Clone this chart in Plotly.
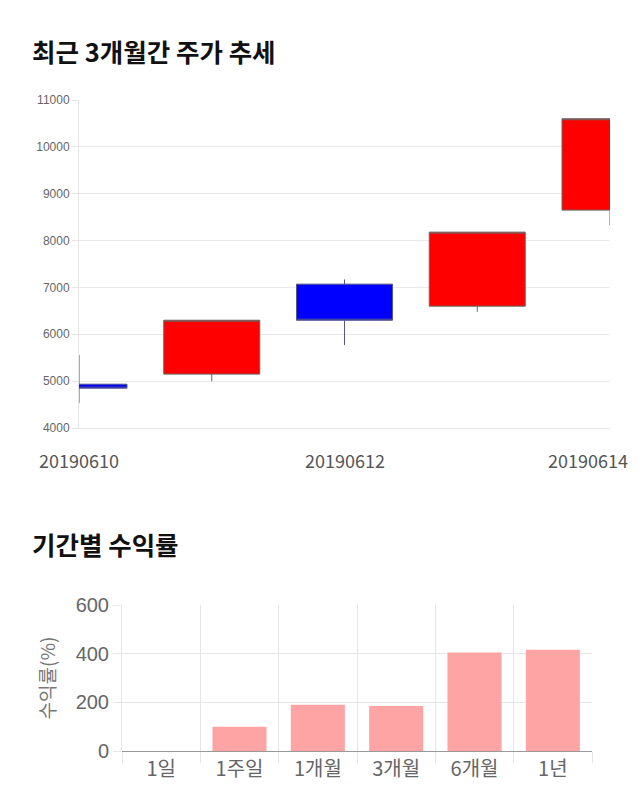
import plotly.graph_objects as go

# ---- data: candlestick (최근 3개월간 주가 추세) ----
dates = ["20190610", "20190611", "20190612", "20190613", "20190614"]
opens = [4935, 5150, 7070, 6600, 8650]
highs = [5560, 6300, 7170, 8180, 10600]
lows = [4530, 5000, 5770, 6480, 8330]
closes = [4850, 6300, 6300, 8180, 10600]
date_ticks = ["20190610", "20190612", "20190614"]
price_ticks = [4000, 5000, 6000, 7000, 8000, 9000, 10000, 11000]

# ---- data: returns (기간별 수익률) ----
periods = ["1일", "1주일", "1개월", "3개월", "6개월", "1년"]
returns = [0, 100, 190, 185, 405, 416]
return_ticks = [0, 200, 400, 600]

W, H = 640, 810
KFONT = "Noto Sans CJK KR"

xpos = list(range(len(dates)))
tickpos = [dates.index(d) for d in date_ticks]

fig = go.Figure()
fig.add_trace(go.Candlestick(
    x=xpos, open=opens, high=highs, low=lows, close=closes,
    xaxis="x", yaxis="y",
    increasing=dict(fillcolor="#FF0000", line=dict(color="#666666", width=1)),
    decreasing=dict(fillcolor="#0000FF", line=dict(color="#55558A", width=1)),
    whiskerwidth=0, showlegend=False, hoverinfo="skip",
))
fig.add_trace(go.Bar(
    x=periods, y=returns, xaxis="x2", yaxis="y2",
    marker=dict(color="#FFA4A4", line=dict(width=0)),
    showlegend=False,
))

def px(x):
    return x / W

def py(y):
    return 1 - y / H

# date labels of the candlestick axis (last one kept inside the canvas)
date_annots = []
for i, (p, d) in enumerate(zip(tickpos, date_ticks)):
    last = i == len(date_ticks) - 1
    date_annots.append(dict(
        text=d, x=p, y=0, xref="x", yref="paper", yanchor="middle",
        xanchor="right" if last else "center", xshift=20 if last else 0,
        yshift=H * py(460), showarrow=False,
        font=dict(family=KFONT, size=18, color="#555555"),
    ))

fig.update_layout(
    width=W, height=H,
    margin=dict(l=0, r=0, t=0, b=0),
    paper_bgcolor="white", plot_bgcolor="white",
    boxgap=0.277, boxgroupgap=0, bargap=0.31,
    font=dict(family=KFONT, color="#666666"),
    xaxis=dict(
        domain=[px(79), px(610)], anchor="y", range=[0, len(dates) - 1],
        tickvals=tickpos, showticklabels=False,
        showgrid=False, zeroline=False, showline=True, linecolor="#E6E6E6",
        ticks="", rangeslider=dict(visible=False), automargin=False,
    ),
    yaxis=dict(
        domain=[py(428), py(100)], anchor="x", range=[4000, 11000],
        tickvals=price_ticks, ticktext=[str(v) for v in price_ticks],
        showgrid=True, gridcolor="#E9E9E9", zeroline=False,
        showline=True, linecolor="#E6E6E6",
        ticks="outside", ticklen=6, tickcolor="#E6E6E6",
        tickfont=dict(family="Liberation Sans", size=12, color="#666666"),
        automargin=False,
    ),
    xaxis2=dict(
        domain=[px(122), px(592)], anchor="y2",
        showgrid=True, gridcolor="#E6E6E6", tickson="boundaries",
        ticks="outside", ticklen=11, tickcolor="#E6E6E6",
        showline=False, zeroline=False, ticklabelstandoff=4,
        tickfont=dict(family=KFONT, size=20, color="#666666"),
        automargin=False,
    ),
    yaxis2=dict(
        domain=[py(751), py(605)], anchor="x2", range=[0, 600],
        tickvals=return_ticks,
        showgrid=True, gridcolor="#E6E6E6",
        zeroline=True, zerolinecolor="#999999", zerolinewidth=1,
        showline=True, linecolor="#E6E6E6",
        ticks="outside", ticklen=8, tickcolor="#E6E6E6",
        tickfont=dict(family="Liberation Sans", size=20, color="#666666"),
        title=dict(text="수익률(%)", font=dict(family=KFONT, size=19, color="#777777"), standoff=14),
        automargin=False,
    ),
    annotations=date_annots + [
        dict(text="<b>최근 3개월간 주가 추세</b>", x=px(30), y=py(50), xref="paper", yref="paper",
             xanchor="left", yanchor="middle", showarrow=False,
             font=dict(family=KFONT, size=25.5, color="#111111")),
        dict(text="<b>기간별 수익률</b>", x=px(30), y=py(543), xref="paper", yref="paper",
             xanchor="left", yanchor="middle", showarrow=False,
             font=dict(family=KFONT, size=25.5, color="#111111")),
    ],
)

fig.write_html("out.html")
